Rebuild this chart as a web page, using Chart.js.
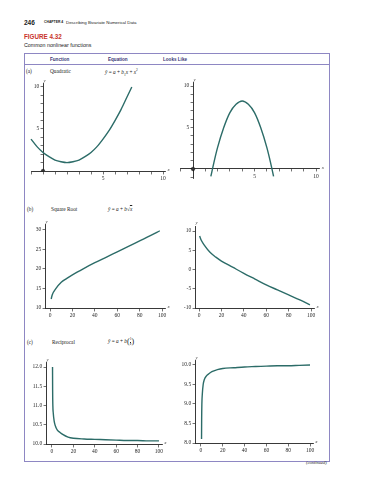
<!DOCTYPE html>
<html>
<head>
<meta charset="utf-8">
<script src="https://cdn.jsdelivr.net/npm/chart.js@4.4.0/dist/chart.umd.min.js"></script>
<style>
html, body { margin: 0; padding: 0; background: #fff; }
body { width: 371px; height: 480px; position: relative; overflow: hidden; font-family: "Liberation Sans", Arial, sans-serif; color: #222; }
.t { position: absolute; white-space: nowrap; line-height: 1; }
.serif { font-family: "Liberation Serif", "DejaVu Serif", serif; }
.head { font-weight: bold; font-size: 4.6px; color: #3b3775; }
canvas { position: absolute; }
#frame { position: absolute; left: 24px; top: 53px; width: 304px; height: 407px; border: 1px solid #8e87c3; }
#hline { position: absolute; left: 25px; top: 64px; width: 304px; border-top: 1px solid #8e87c3; }
.frac { display: inline-block; vertical-align: middle; text-align: center; font-size: 3.6px; line-height: 1; }
.frac span { display: block; }
.frac .num { border-bottom: 0.5px solid #222; }
.par { font-size: 8px; vertical-align: middle; }
</style>
</head>
<body>
<div class="t" style="left:24px;top:19.5px;font-size:6.5px;font-weight:bold">246</div>
<div class="t" style="left:44px;top:21.4px;font-size:3.4px;font-weight:bold">CHAPTER 4</div>
<div class="t" style="left:66px;top:20.8px;font-size:4.4px">Describing Bivariate Numerical Data</div>
<div class="t" style="left:24px;top:33.5px;font-size:6.3px;font-weight:bold;color:#c9342b">FIGURE 4.32</div>
<div class="t" style="left:24px;top:42.5px;font-size:5.3px">Common nonlinear functions</div>

<div id="frame"></div>
<div id="hline"></div>
<div class="t head" style="left:50px;top:57.5px">Function</div>
<div class="t head" style="left:108px;top:57.5px">Equation</div>
<div class="t head" style="left:163px;top:57.5px">Looks Like</div>

<div class="t serif" style="left:26px;top:68.5px;font-size:5.3px">(a)</div>
<div class="t serif" style="left:50px;top:68.5px;font-size:5.3px">Quadratic</div>
<div class="t serif" style="left:105px;top:68.5px;font-size:5.3px"><i>ŷ</i> = <i>a</i> + <i>b</i><sub style="font-size:3.5px">1</sub><i>x</i> + <i>x</i><sup style="font-size:3.5px">2</sup></div>

<div class="t serif" style="left:27px;top:206.5px;font-size:5.3px">(b)</div>
<div class="t serif" style="left:51px;top:206.5px;font-size:5.3px">Square Root</div>
<div class="t serif" style="left:108px;top:206.5px;font-size:5.3px"><i>ŷ</i> = <i>a</i> + <i>b</i>√<span style="text-decoration:overline"><i>x</i></span></div>

<div class="t serif" style="left:27px;top:339.5px;font-size:5.3px">(c)</div>
<div class="t serif" style="left:52px;top:339.5px;font-size:5.3px">Reciprocal</div>
<div class="t serif" style="left:108px;top:338px;font-size:5.3px"><i>ŷ</i> = <i>a</i> + <i>b</i><span class="par">(</span><span class="frac"><span class="num">1</span><span><i>x</i></span></span><span class="par">)</span></div>

<div class="t serif" style="left:306px;top:461px;font-size:4.5px;font-style:italic">(continued)</div>

<script>
// values
const quadUpX = [-1, -0.5, 0, 0.5, 1, 1.5, 2, 2.5, 3, 3.5, 4, 4.5, 5, 5.5, 6, 6.5, 7, 7.4];
const quadUpY = [3.8, 2.9, 2.2, 1.7, 1.3, 1.1, 1.0, 1.1, 1.3, 1.7, 2.2, 2.9, 3.8, 4.8, 6.0, 7.3, 8.8, 10.0];
const quadDownX = [1.45, 1.75, 2, 2.5, 3, 3.5, 4, 4.5, 5, 5.5, 6, 6.3, 6.55];
const quadDownY = [-0.9, 1.1, 2.6, 5.0, 6.8, 7.8, 8.2, 7.8, 6.8, 5.0, 2.6, 0.8, -0.9];

const sqrtUpX = [1, 2, 5, 10, 15, 20, 30, 40, 50, 60, 70, 80, 90, 98];
const sqrtUpY = [12.3, 13.4, 14.9, 16.6, 17.6, 18.5, 20.1, 21.6, 23.0, 24.4, 25.8, 27.2, 28.6, 29.8];
const sqrtDownX = [0.5, 2, 5, 10, 15, 20, 30, 40, 50, 60, 70, 80, 90, 99];
const sqrtDownY = [8.7, 7.6, 6.2, 4.4, 3.2, 2.2, 0.6, -1.0, -2.5, -4.0, -5.3, -6.6, -7.9, -9.2];

const recipX = [0.5, 0.6, 0.8, 1.2, 2, 3, 5, 7.5, 10, 15, 20, 30, 40, 50, 60, 70, 80, 90, 100];
const recipDownY = [12.0, 11.4, 11.0, 10.8, 10.6, 10.48, 10.36, 10.3, 10.25, 10.18, 10.15, 10.13, 10.12, 10.11, 10.10, 10.09, 10.09, 10.08, 10.08];
const recipUpY = [8.1, 8.6, 9.0, 9.25, 9.5, 9.62, 9.72, 9.78, 9.83, 9.88, 9.91, 9.93, 9.95, 9.96, 9.97, 9.98, 9.98, 9.99, 10.0];

// tick positions and which of them carry a label
const quadTicks = [-1, 0, 1, 2, 3, 4, 5, 6, 7, 8, 9, 10];
const quadLabels = [5, 10];
const hundredTicks = [0, 20, 40, 60, 80, 100];
const sqrtUpTicks = [10, 15, 20, 25, 30];
const sqrtDownTicks = [-10, -5, 0, 5, 10];
const recipDownTicks = [10.0, 10.5, 11.0, 11.5, 12.0];
const recipUpTicks = [8.0, 8.5, 9.0, 9.5, 10.0];
const origin = [{x: 0, y: 0}];

const curveColor = '#2c6c68';
const inkColor = '#2a2a2a';
const tickFont = {family: '"Liberation Serif", "DejaVu Serif", serif', size: 5.5};
// y labels sit on the axis line when the axis is placed by value, so pad them with spaces
const ySpacer = '\u2002\u2009';

const axisLetters = {
    id: 'axisLetters',
    afterDraw(chart, args, opts) {
        const ctx = chart.ctx;
        const area = chart.chartArea;
        const ax = chart.scales.x.getPixelForValue(opts.yAt);
        const ay = chart.scales.y.getPixelForValue(opts.xAt);
        ctx.save();
        ctx.fillStyle = '#444';
        ctx.font = 'italic 5px "Liberation Serif"';
        ctx.textAlign = 'left';
        ctx.textBaseline = 'middle';
        ctx.fillText('x', area.right + 2, ay - 1.5);
        ctx.textAlign = 'center';
        ctx.textBaseline = 'bottom';
        ctx.fillText('y', ax + 1.5, area.top - 0.5);
        ctx.restore();
    }
};

function toPoints(xs, ys) {
    return xs.map((x, i) => ({x: x, y: ys[i]}));
}

function plot(cfg) {
    // cfg.box = chart area in page pixels
    const box = cfg.box;
    const left = Math.floor(box.l) - 30;
    const top = Math.floor(box.t) - 12;
    const width = Math.ceil(box.r) - left + 14;
    const height = Math.ceil(box.b) - top + 16;

    const canvas = document.createElement('canvas');
    canvas.width = width;
    canvas.height = height;
    canvas.style.left = left + 'px';
    canvas.style.top = top + 'px';
    document.body.appendChild(canvas);

    const datasets = [{
        data: toPoints(cfg.xs, cfg.ys),
        showLine: true,
        borderColor: curveColor,
        borderWidth: 1.4,
        pointRadius: 0,
        cubicInterpolationMode: 'monotone',
        clip: false
    }];
    if (cfg.dot) {
        datasets.push({
            data: origin,
            pointRadius: 1.8,
            pointBackgroundColor: '#333',
            pointBorderColor: '#111',
            pointBorderWidth: 0.5
        });
    }

    const axis = (min, max, tickVals, labelVals, digits, pos, suffix) => ({
        type: 'linear',
        min: min,
        max: max,
        position: pos,
        afterBuildTicks: s => { s.ticks = tickVals.map(v => ({value: v})); },
        ticks: {
            autoSkip: false,
            maxRotation: 0,
            padding: 1.5,
            color: inkColor,
            font: tickFont,
            callback: v => labelVals.includes(v) ? v.toFixed(digits) + suffix : ''
        },
        grid: {drawOnChartArea: false, drawTicks: true, tickLength: 2.5, color: '#333', lineWidth: 0.7},
        border: {display: true, color: '#222', width: 0.9}
    });

    new Chart(canvas.getContext('2d'), {
        type: 'scatter',
        data: {datasets: datasets},
        options: {
            responsive: false,
            animation: false,
            devicePixelRatio: 1,
            layout: {padding: {left: box.l - left, top: box.t - top, right: left + width - box.r, bottom: top + height - box.b}},
            scales: {
                x: axis(cfg.xr[0], cfg.xr[1], cfg.xTicks, cfg.xLabels, 0, {y: cfg.xAt}, ''),
                y: axis(cfg.yr[0], cfg.yr[1], cfg.yTicks, cfg.yLabels, cfg.yDigits, {x: cfg.yAt}, ySpacer)
            },
            plugins: {
                legend: {display: false},
                tooltip: {enabled: false},
                axisLetters: {xAt: cfg.xAt, yAt: cfg.yAt}
            }
        },
        plugins: [axisLetters]
    });
}

// (a) quadratic
plot({box: {l: 31, r: 165.4, t: 83.6, b: 171}, xr: [-1, 10.2], yr: [0, 10.4], xAt: 0, yAt: 0,
    xs: quadUpX, ys: quadUpY, xTicks: quadTicks, xLabels: quadLabels,
    yTicks: quadTicks.slice(1), yLabels: quadLabels, yDigits: 0, dot: true});
plot({box: {l: 180.7, r: 319.7, t: 82.7, b: 178.1}, xr: [-1, 10.3], yr: [-1.1, 10.4], xAt: 0, yAt: 0,
    xs: quadDownX, ys: quadDownY, xTicks: quadTicks, xLabels: quadLabels,
    yTicks: quadTicks, yLabels: quadLabels, yDigits: 0, dot: true});

// (b) square root
plot({box: {l: 45, r: 165.4, t: 224.9, b: 308}, xr: [-4.5, 103], yr: [10, 31.3], xAt: 10, yAt: -4.5,
    xs: sqrtUpX, ys: sqrtUpY, xTicks: hundredTicks, xLabels: hundredTicks,
    yTicks: sqrtUpTicks, yLabels: sqrtUpTicks, yDigits: 0});
plot({box: {l: 195, r: 314.4, t: 226, b: 308}, xr: [-3.6, 103], yr: [-10, 11.3], xAt: -10, yAt: -3.6,
    xs: sqrtDownX, ys: sqrtDownY, xTicks: hundredTicks, xLabels: hundredTicks,
    yTicks: sqrtDownTicks, yLabels: sqrtDownTicks, yDigits: 0});

// (c) reciprocal
plot({box: {l: 46, r: 162.2, t: 362.4, b: 444}, xr: [-5.6, 103], yr: [10, 12.12], xAt: 10, yAt: -5.6,
    xs: recipX, ys: recipDownY, xTicks: hundredTicks, xLabels: hundredTicks,
    yTicks: recipDownTicks, yLabels: recipDownTicks, yDigits: 1});
plot({box: {l: 195, r: 313.3, t: 360.3, b: 443}, xr: [-5.5, 103], yr: [8, 10.12], xAt: 8, yAt: -5.5,
    xs: recipX, ys: recipUpY, xTicks: hundredTicks, xLabels: hundredTicks,
    yTicks: recipUpTicks, yLabels: recipUpTicks, yDigits: 1});
</script>
</body>
</html>
